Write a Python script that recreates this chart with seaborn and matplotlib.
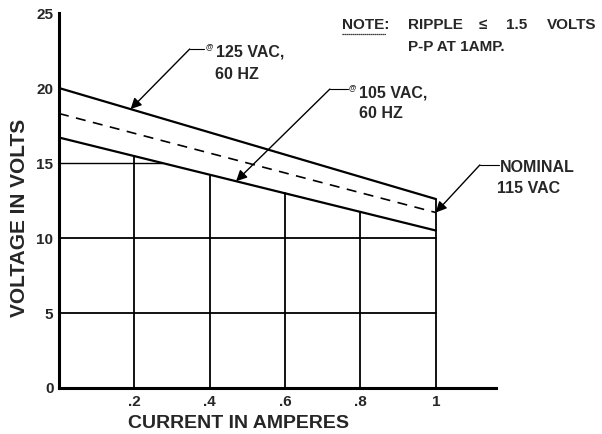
import numpy as np
import pandas as pd
import matplotlib
matplotlib.use("Agg")
import matplotlib.pyplot as plt
import seaborn as sns

# Output voltage vs load current
current = [0.0, 1.0]
volts_125 = [20.0, 12.6]
volts_115 = [18.3, 11.7]
volts_105 = [16.7, 10.5]

x_ticks = [0.2, 0.4, 0.6, 0.8, 1.0]
x_tick_labels = ['.2', '.4', '.6', '.8', '1']
y_ticks = [0, 5, 10, 15, 20, 25]

df = pd.DataFrame({'current': current, 'v125': volts_125,
                   'v115': volts_115, 'v105': volts_105})


def main():
    sns.set_theme(style="white")
    plt.rcParams['font.family'] = ['Liberation Sans', 'DejaVu Sans']
    plt.rcParams['font.weight'] = 'bold'

    fig = plt.figure(figsize=(6.02, 4.34), dpi=100)
    ax = fig.add_axes([0.098, 0.106, 0.726, 0.864])

    # grid lines stop at the curves, like the original drawing
    for xv in x_ticks:
        top = np.interp(xv, current, volts_105)
        if xv == 1.0:
            top = np.interp(xv, current, volts_125)
        ax.plot([xv, xv], [0, top], color='black', lw=1.3, zorder=1)
    for yv in [5, 10]:
        ax.plot([0, 1], [yv, yv], color='black', lw=1.3, zorder=1)
    # 15 V line runs until it meets the 105 VAC curve
    x15 = np.interp(15, volts_105[::-1], current[::-1])
    ax.plot([0, x15], [15, 15], color='black', lw=1.0, zorder=1)

    sns.lineplot(data=df, x='current', y='v125', ax=ax, color='black', lw=1.6)
    sns.lineplot(data=df, x='current', y='v115', ax=ax, color='black', lw=1.2,
                 dashes=False, linestyle=(0, (6, 4.5)))
    sns.lineplot(data=df, x='current', y='v105', ax=ax, color='black', lw=1.6)

    ax.set_xlim(0, 1.16)
    ax.set_ylim(0, 25)
    ax.set_xticks(x_ticks)
    ax.set_xticklabels(x_tick_labels)
    ax.set_yticks(y_ticks)
    ax.tick_params(axis='y', length=0, pad=4, labelsize=11)
    ax.tick_params(axis='x', length=0, pad=5, labelsize=11)
    for lab in ax.get_xticklabels() + ax.get_yticklabels():
        lab.set_fontweight('bold')

    for side in ['top', 'right']:
        ax.spines[side].set_visible(False)
    for side in ['left', 'bottom']:
        ax.spines[side].set_color('black')
        ax.spines[side].set_linewidth(2.2)

    ax.set_xlabel('CURRENT IN AMPERES', fontsize=14, fontweight='bold')
    ax.set_ylabel('VOLTAGE IN VOLTS', fontsize=15, fontweight='bold')
    ax.xaxis.set_label_coords(0.41, -0.073)
    ax.yaxis.set_label_coords(-0.068, 0.453)

    arrow = dict(arrowstyle='-|>', color='black', lw=1.0, mutation_scale=16,
                 shrinkA=0, shrinkB=0)
    txt = dict(fontsize=11.5, fontweight='bold', va='center', ha='left',
               clip_on=False)
    lead = dict(color='black', lw=0.8, clip_on=False)
    at = dict(fontsize=5.5, fontweight='bold', va='center', ha='left')

    # 125 VAC
    ax.annotate('', xy=(0.19, np.interp(0.19, current, volts_125)),
                xytext=(0.347, 22.6), arrowprops=arrow)
    ax.plot([0.347, 0.384], [22.6, 22.6], **lead)
    ax.text(0.388, 22.75, '@', **at)
    ax.text(0.416, 22.4, '125 VAC,', **txt)
    ax.text(0.414, 20.87, '60 HZ', **txt)

    # 105 VAC
    ax.annotate('', xy=(0.47, np.interp(0.47, current, volts_105)),
                xytext=(0.719, 19.93), arrowprops=arrow)
    ax.plot([0.719, 0.766], [19.93, 19.93], **lead)
    ax.text(0.770, 20.05, '@', **at)
    ax.text(0.795, 19.67, '105 VAC,', **txt)
    ax.text(0.796, 18.33, '60 HZ', **txt)

    # nominal 115 VAC
    ax.annotate('', xy=(1.0, volts_115[-1]), xytext=(1.117, 14.87),
                arrowprops=arrow, annotation_clip=False)
    ax.plot([1.117, 1.167], [14.87, 14.87], **lead)
    ax.text(1.170, 14.67, 'NOMINAL', **txt)
    ax.text(1.162, 13.27, '115 VAC', **txt)

    # ripple note, placed in figure pixels
    W, H = 602.0, 434.0
    note = dict(fontsize=11, fontweight='bold', va='center', ha='left')
    fig.text(342 / W, 1 - 25 / H, 'NOTE:', **note)
    fig.lines.append(plt.Line2D([342 / W, 386 / W], [1 - 34 / H, 1 - 34 / H],
                                transform=fig.transFigure, color='black', lw=0.9,
                                ls=(0, (1, 0.6))))
    fig.text(408 / W, 1 - 25 / H, 'RIPPLE', **note)
    fig.text(479 / W, 1 - 25 / H, '\u2264', **note)
    fig.text(506 / W, 1 - 25 / H, '1.5', **note)
    fig.text(547 / W, 1 - 25 / H, 'VOLTS', **note)
    fig.text(408 / W, 1 - 47 / H, 'P-P AT 1AMP.', **note)

    fig.savefig('out.png', dpi=100)
    plt.close(fig)


if __name__ == "__main__":
    main()
